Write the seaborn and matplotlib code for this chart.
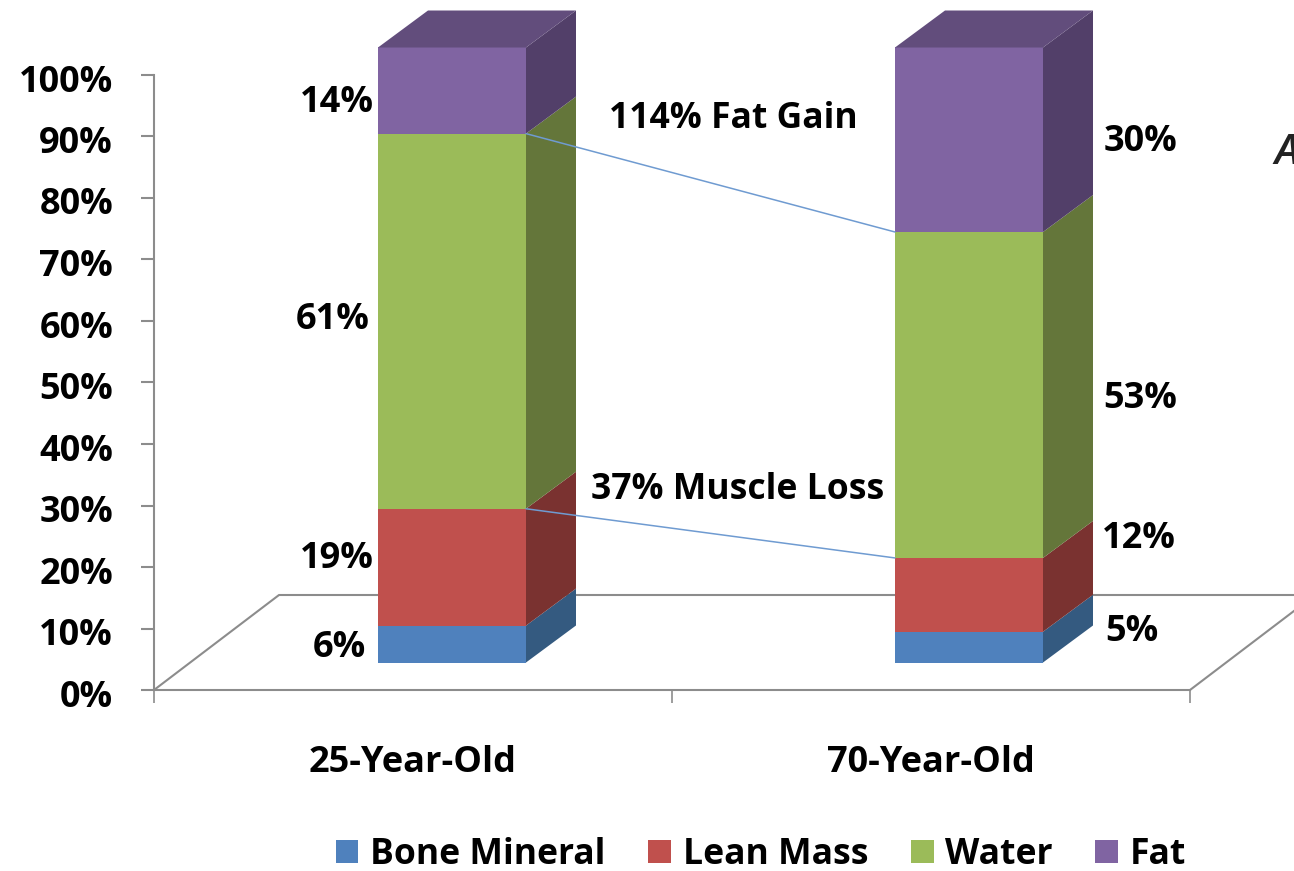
import matplotlib
matplotlib.use("Agg")
import matplotlib.pyplot as plt
import pandas as pd
import seaborn as sns
from matplotlib.patches import Patch, Polygon
from matplotlib.transforms import ScaledTranslation

groups = ["25-Year-Old", "70-Year-Old"]
segments = ["Bone Mineral", "Lean Mass", "Water", "Fat"]
bone = [6, 5]
lean = [19, 12]
water = [61, 53]
fat = [14, 30]
pct_ticks = list(range(0, 101, 10))

front_colors = ["#4F81BD", "#C0504D", "#9BBB59", "#8064A2"]
side_colors = ["#345A80", "#7A3230", "#64763A", "#523F69"]
top_color = "#624D7C"
grey = "#8C8C8C"
font = "Open Sans"
label_size = 26

W, H = 1294, 871
# pixel scale of the fake 3d chart
px_x = 517.0
px_y = 6.15
lift = 27.5 / px_y
dx = 50 / px_x
dy = 37 / px_y
bar_w = 148 / px_x

sns.set_theme(style="white")
plt.rcParams["font.family"] = [font, "DejaVu Sans"]

fig = plt.figure(figsize=(W / 100, H / 100), dpi=100)
ax = fig.add_axes([154 / W, (H - 690) / H, (1190 - 154) / W, 615 / H])

df = pd.DataFrame({"group": groups, "Bone Mineral": bone, "Lean Mass": lean, "Water": water, "Fat": fat})

base = [0, 0]
for name, front, side in zip(segments, front_colors, side_colors):
    vals = df[name].tolist()
    bottoms = [b + lift for b in base]
    sns.barplot(data=df, x="group", y=name, order=groups, color=front, saturation=1,
                width=bar_w, bottom=bottoms, ax=ax, zorder=3, linewidth=0, clip_on=False)
    for i in range(2):
        r = i + bar_w / 2
        y0, y1 = bottoms[i], bottoms[i] + vals[i]
        ax.add_patch(Polygon([(r, y0), (r + dx, y0 + dy), (r + dx, y1 + dy), (r, y1)],
                             closed=True, fc=side, ec="none", zorder=3, clip_on=False))
    base = [b + v for b, v in zip(base, vals)]

# top lids
for i in range(2):
    l, r = i - bar_w / 2, i + bar_w / 2
    t = base[i] + lift
    ax.add_patch(Polygon([(l, t), (l + dx, t + dy), (r + dx, t + dy), (r, t)],
                         closed=True, fc=top_color, ec="none", zorder=3, clip_on=False))

x_left = (154 - 452) / px_x
x_right = (1190 - 452) / px_x
ax.set_xlim(x_left, x_right)
ax.set_ylim(0, 100)

# floor
fx = 125 / px_x
fy = 95 / px_y
floor = dict(color=grey, lw=1.5, clip_on=False, zorder=1)
ax.plot([x_left, x_left + fx, x_right + fx], [0, fy, fy], **floor)
ax.plot([x_right, x_right + fx], [0, fy], **floor)

# series lines between the stacks
line_kw = dict(color="#6F9BD1", lw=1.1, zorder=4, clip_on=False)
cum_lean = [b + l for b, l in zip(bone, lean)]
cum_water = [c + w for c, w in zip(cum_lean, water)]
for cum in (cum_lean, cum_water):
    ax.plot([bar_w / 2, 1 - bar_w / 2], [cum[0] + lift, cum[1] + lift], **line_kw)

# axes
sns.despine(ax=ax, top=True, right=True)
for side in ("left", "bottom"):
    ax.spines[side].set_color(grey)
    ax.spines[side].set_linewidth(1.5)
ax.set_yticks(pct_ticks)
ax.set_yticklabels([f"{p}%" for p in pct_ticks], fontsize=label_size, fontweight="bold", color="black")
ax.tick_params(axis="y", left=True, length=9.5, width=1.5, color=grey, pad=20)
down = ScaledTranslation(0, -3 / 100, fig.dpi_scale_trans)
for lab in ax.get_yticklabels():
    lab.set_transform(lab.get_transform() + down)
ax.set_xticks([x_left, (x_left + x_right) / 2, x_right])
ax.set_xticklabels([])
ax.tick_params(axis="x", which="major", bottom=True, length=9.5, width=1.2, color=grey)
ax.set_xticks([(x_left + (x_left + x_right) / 2) / 2, ((x_left + x_right) / 2 + x_right) / 2], minor=True)
ax.set_xticklabels(groups, minor=True, fontsize=label_size, fontweight="bold", color="black")
ax.tick_params(axis="x", which="minor", bottom=False, length=0, pad=39.5)
ax.set_xlabel("")
ax.set_ylabel("")

# data labels, hand nudged like the original
nudges = [
    [(-113, -4), (-115, 8), (-119, 1), (-115, -12)],
    [(163, 15), (170, 56), (171, -4), (171, -2)],
]
for i in range(2):
    b = 0
    for j, name in enumerate(segments):
        v = df[name].iloc[i]
        ax.annotate(f"{v}%", xy=(i, b + v / 2 + lift), xytext=nudges[i][j], textcoords="offset pixels",
                    ha="center", va="center", fontsize=label_size, fontweight="bold", color="black",
                    zorder=6, annotation_clip=False)
        b += v

ax.text(0.544, 92.8, "114% Fat Gain", ha="center", va="center", fontsize=25.6, fontweight="bold", color="black")
ax.text(0.552, 32.6, "37% Muscle Loss", ha="center", va="center", fontsize=25.6, fontweight="bold", color="black")

# clipped letter at the right edge of the source image
fig.text(1274 / W, (H - 164) / H, "A", fontsize=30, style="italic", fontweight="semibold", color="#222222",
         ha="left", va="baseline")

handles = [Patch(fc=c, ec="none", label=s) for c, s in zip(front_colors, segments)]
fig.legend(handles=handles, ncol=4, loc="center", bbox_to_anchor=(761 / W, (H - 855) / H), frameon=False,
           prop={"family": font, "weight": "bold", "size": 25.6}, labelcolor="black",
           handlelength=0.64, handleheight=0.64, handletextpad=0.33, columnspacing=1.2, borderaxespad=0, borderpad=0)

fig.savefig("out.png", dpi=100, facecolor="white")
